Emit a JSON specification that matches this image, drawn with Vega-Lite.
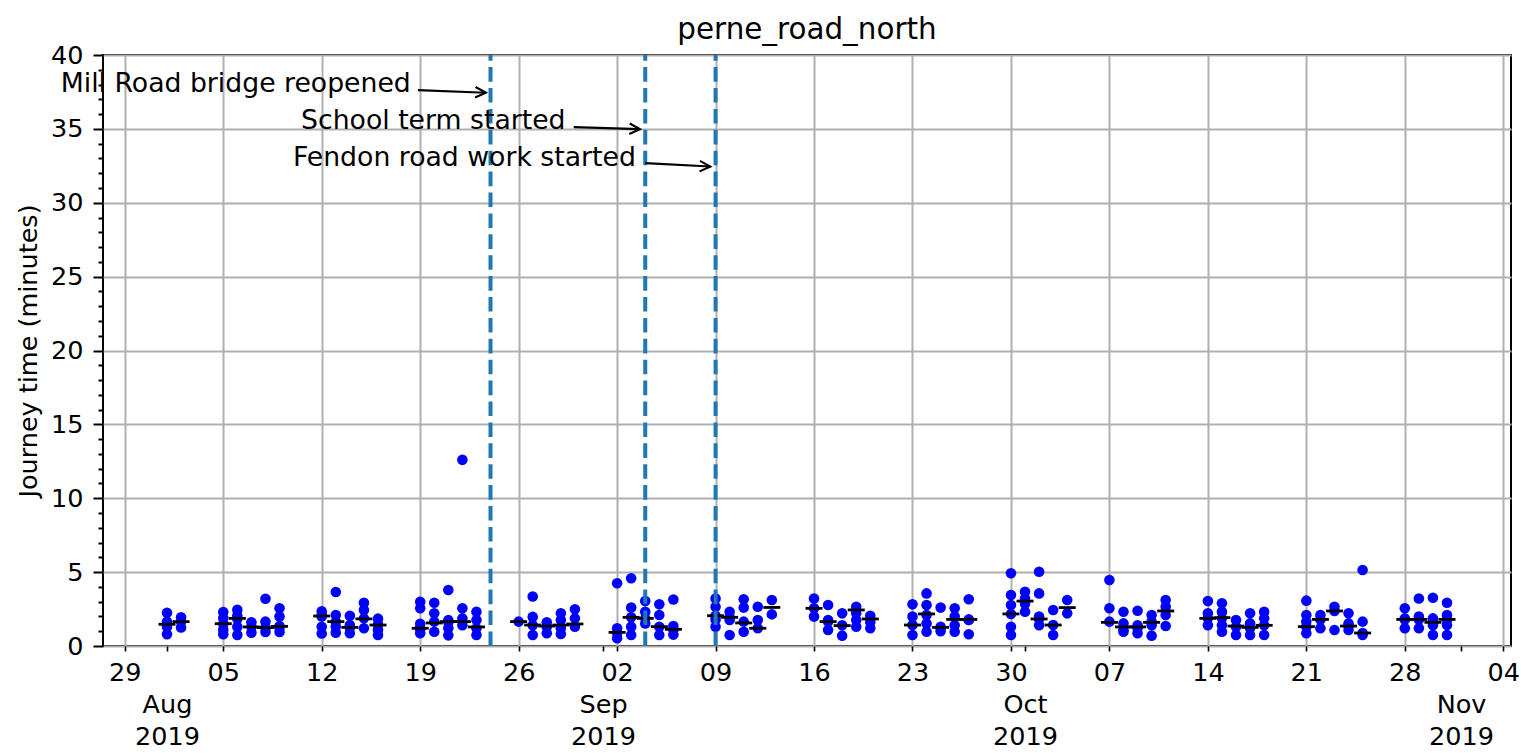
{
  "$schema": "https://vega.github.io/schema/vega-lite/v6.json",
  "width": 1408,
  "height": 591,
  "autosize": {"type": "none"},
  "padding": {"left": 103, "top": 55, "right": 10, "bottom": 107},
  "background": "white",
  "title": {"text": "perne_road_north", "fontSize": 29.4, "font": "DejaVu Sans", "fontWeight": "normal", "color": "black", "anchor": "middle", "frame": "group", "baseline": "alphabetic", "offset": -25},
  "config": {
    "font": "DejaVu Sans",
    "view": {"stroke": "black", "strokeWidth": 2}
  },
  "datasets": {
    "journeys": [
      {"date":"2019-08-01","minutes":2.25},{"date":"2019-08-01","minutes":1.65},{"date":"2019-08-01","minutes":1.3},{"date":"2019-08-01","minutes":0.8},
      {"date":"2019-08-02","minutes":1.95},{"date":"2019-08-02","minutes":1.65},{"date":"2019-08-02","minutes":1.25},
      {"date":"2019-08-05","minutes":2.3},{"date":"2019-08-05","minutes":1.9},{"date":"2019-08-05","minutes":1.5},{"date":"2019-08-05","minutes":1.1},{"date":"2019-08-05","minutes":0.8},
      {"date":"2019-08-06","minutes":2.45},{"date":"2019-08-06","minutes":2.05},{"date":"2019-08-06","minutes":1.85},{"date":"2019-08-06","minutes":1.3},{"date":"2019-08-06","minutes":0.75},
      {"date":"2019-08-07","minutes":1.6},{"date":"2019-08-07","minutes":1.3},{"date":"2019-08-07","minutes":0.9},
      {"date":"2019-08-08","minutes":3.2},{"date":"2019-08-08","minutes":1.65},{"date":"2019-08-08","minutes":1.25},{"date":"2019-08-08","minutes":0.95},
      {"date":"2019-08-09","minutes":2.55},{"date":"2019-08-09","minutes":2.0},{"date":"2019-08-09","minutes":1.35},{"date":"2019-08-09","minutes":1.25},{"date":"2019-08-09","minutes":0.95},
      {"date":"2019-08-12","minutes":2.35},{"date":"2019-08-12","minutes":2.1},{"date":"2019-08-12","minutes":2.0},{"date":"2019-08-12","minutes":1.3},{"date":"2019-08-12","minutes":0.85},
      {"date":"2019-08-13","minutes":3.65},{"date":"2019-08-13","minutes":2.1},{"date":"2019-08-13","minutes":1.65},{"date":"2019-08-13","minutes":1.3},{"date":"2019-08-13","minutes":0.9},
      {"date":"2019-08-14","minutes":2.05},{"date":"2019-08-14","minutes":1.42},{"date":"2019-08-14","minutes":1.25},{"date":"2019-08-14","minutes":0.86},
      {"date":"2019-08-15","minutes":2.93},{"date":"2019-08-15","minutes":2.43},{"date":"2019-08-15","minutes":1.87},{"date":"2019-08-15","minutes":1.2},
      {"date":"2019-08-16","minutes":1.85},{"date":"2019-08-16","minutes":1.45},{"date":"2019-08-16","minutes":1.1},{"date":"2019-08-16","minutes":0.75},
      {"date":"2019-08-19","minutes":3.0},{"date":"2019-08-19","minutes":2.55},{"date":"2019-08-19","minutes":1.5},{"date":"2019-08-19","minutes":1.2},{"date":"2019-08-19","minutes":1.15},{"date":"2019-08-19","minutes":0.86},
      {"date":"2019-08-20","minutes":2.93},{"date":"2019-08-20","minutes":2.21},{"date":"2019-08-20","minutes":1.65},{"date":"2019-08-20","minutes":0.97},
      {"date":"2019-08-21","minutes":3.79},{"date":"2019-08-21","minutes":1.75},{"date":"2019-08-21","minutes":1.6},{"date":"2019-08-21","minutes":1.2},{"date":"2019-08-21","minutes":0.72},
      {"date":"2019-08-22","minutes":12.6},{"date":"2019-08-22","minutes":2.55},{"date":"2019-08-22","minutes":1.87},{"date":"2019-08-22","minutes":1.4},
      {"date":"2019-08-23","minutes":2.32},{"date":"2019-08-23","minutes":1.76},{"date":"2019-08-23","minutes":1.2},{"date":"2019-08-23","minutes":0.74},
      {"date":"2019-08-26","minutes":1.65},
      {"date":"2019-08-27","minutes":3.35},{"date":"2019-08-27","minutes":1.97},{"date":"2019-08-27","minutes":1.4},{"date":"2019-08-27","minutes":0.74},
      {"date":"2019-08-28","minutes":1.6},{"date":"2019-08-28","minutes":1.3},{"date":"2019-08-28","minutes":0.86},
      {"date":"2019-08-29","minutes":2.21},{"date":"2019-08-29","minutes":1.76},{"date":"2019-08-29","minutes":1.2},{"date":"2019-08-29","minutes":0.81},
      {"date":"2019-08-30","minutes":2.48},{"date":"2019-08-30","minutes":1.87},{"date":"2019-08-30","minutes":1.31},
      {"date":"2019-09-02","minutes":4.25},{"date":"2019-09-02","minutes":1.2},{"date":"2019-09-02","minutes":0.9},{"date":"2019-09-02","minutes":0.52},
      {"date":"2019-09-03","minutes":4.58},{"date":"2019-09-03","minutes":2.6},{"date":"2019-09-03","minutes":1.94},{"date":"2019-09-03","minutes":1.31},{"date":"2019-09-03","minutes":0.74},
      {"date":"2019-09-04","minutes":3.04},{"date":"2019-09-04","minutes":2.32},{"date":"2019-09-04","minutes":1.87},{"date":"2019-09-04","minutes":1.53},
      {"date":"2019-09-05","minutes":2.82},{"date":"2019-09-05","minutes":2.1},{"date":"2019-09-05","minutes":1.3},{"date":"2019-09-05","minutes":0.74},
      {"date":"2019-09-06","minutes":3.15},{"date":"2019-09-06","minutes":1.35},{"date":"2019-09-06","minutes":1.1},{"date":"2019-09-06","minutes":0.77},
      {"date":"2019-09-09","minutes":3.22},{"date":"2019-09-09","minutes":2.66},{"date":"2019-09-09","minutes":2.05},{"date":"2019-09-09","minutes":1.8},{"date":"2019-09-09","minutes":1.31},
      {"date":"2019-09-10","minutes":2.32},{"date":"2019-09-10","minutes":1.94},{"date":"2019-09-10","minutes":1.76},{"date":"2019-09-10","minutes":0.74},
      {"date":"2019-09-11","minutes":3.16},{"date":"2019-09-11","minutes":2.6},{"date":"2019-09-11","minutes":1.65},{"date":"2019-09-11","minutes":0.97},
      {"date":"2019-09-12","minutes":2.66},{"date":"2019-09-12","minutes":1.76},{"date":"2019-09-12","minutes":1.2},
      {"date":"2019-09-13","minutes":3.11},{"date":"2019-09-13","minutes":2.14},
      {"date":"2019-09-16","minutes":3.22},{"date":"2019-09-16","minutes":2.55},{"date":"2019-09-16","minutes":1.99},
      {"date":"2019-09-17","minutes":2.77},{"date":"2019-09-17","minutes":1.76},{"date":"2019-09-17","minutes":1.65},{"date":"2019-09-17","minutes":1.08},
      {"date":"2019-09-18","minutes":2.21},{"date":"2019-09-18","minutes":1.4},{"date":"2019-09-18","minutes":0.7},
      {"date":"2019-09-19","minutes":2.66},{"date":"2019-09-19","minutes":2.21},{"date":"2019-09-19","minutes":1.76},{"date":"2019-09-19","minutes":1.31},
      {"date":"2019-09-20","minutes":2.05},{"date":"2019-09-20","minutes":1.6},{"date":"2019-09-20","minutes":1.2},
      {"date":"2019-09-23","minutes":2.82},{"date":"2019-09-23","minutes":1.99},{"date":"2019-09-23","minutes":1.42},{"date":"2019-09-23","minutes":0.74},
      {"date":"2019-09-24","minutes":3.56},{"date":"2019-09-24","minutes":2.77},{"date":"2019-09-24","minutes":2.1},{"date":"2019-09-24","minutes":1.53},{"date":"2019-09-24","minutes":0.97},
      {"date":"2019-09-25","minutes":2.6},{"date":"2019-09-25","minutes":1.3},{"date":"2019-09-25","minutes":1.2},{"date":"2019-09-25","minutes":1.0},
      {"date":"2019-09-26","minutes":2.55},{"date":"2019-09-26","minutes":2.0},{"date":"2019-09-26","minutes":1.4},{"date":"2019-09-26","minutes":0.97},
      {"date":"2019-09-27","minutes":3.16},{"date":"2019-09-27","minutes":1.8},{"date":"2019-09-27","minutes":1.76},{"date":"2019-09-27","minutes":0.79},
      {"date":"2019-09-30","minutes":4.92},{"date":"2019-09-30","minutes":3.45},{"date":"2019-09-30","minutes":2.77},{"date":"2019-09-30","minutes":2.17},{"date":"2019-09-30","minutes":1.3},{"date":"2019-09-30","minutes":0.74},
      {"date":"2019-10-01","minutes":3.67},{"date":"2019-10-01","minutes":3.22},{"date":"2019-10-01","minutes":2.86},{"date":"2019-10-01","minutes":2.32},
      {"date":"2019-10-02","minutes":5.03},{"date":"2019-10-02","minutes":3.56},{"date":"2019-10-02","minutes":2.0},{"date":"2019-10-02","minutes":1.83},{"date":"2019-10-02","minutes":1.4},
      {"date":"2019-10-03","minutes":2.44},{"date":"2019-10-03","minutes":1.42},{"date":"2019-10-03","minutes":0.74},
      {"date":"2019-10-04","minutes":3.11},{"date":"2019-10-04","minutes":2.21},
      {"date":"2019-10-07","minutes":4.47},{"date":"2019-10-07","minutes":2.55},{"date":"2019-10-07","minutes":1.65},
      {"date":"2019-10-08","minutes":2.32},{"date":"2019-10-08","minutes":1.53},{"date":"2019-10-08","minutes":1.1},{"date":"2019-10-08","minutes":0.97},
      {"date":"2019-10-09","minutes":2.39},{"date":"2019-10-09","minutes":1.4},{"date":"2019-10-09","minutes":1.2},{"date":"2019-10-09","minutes":0.86},
      {"date":"2019-10-10","minutes":2.1},{"date":"2019-10-10","minutes":1.65},{"date":"2019-10-10","minutes":1.4},{"date":"2019-10-10","minutes":0.7},
      {"date":"2019-10-11","minutes":3.11},{"date":"2019-10-11","minutes":2.66},{"date":"2019-10-11","minutes":2.1},{"date":"2019-10-11","minutes":1.35},
      {"date":"2019-10-14","minutes":3.04},{"date":"2019-10-14","minutes":2.21},{"date":"2019-10-14","minutes":1.87},{"date":"2019-10-14","minutes":1.4},
      {"date":"2019-10-15","minutes":2.89},{"date":"2019-10-15","minutes":2.32},{"date":"2019-10-15","minutes":1.87},{"date":"2019-10-15","minutes":1.4},{"date":"2019-10-15","minutes":0.97},
      {"date":"2019-10-16","minutes":1.76},{"date":"2019-10-16","minutes":1.3},{"date":"2019-10-16","minutes":0.74},
      {"date":"2019-10-17","minutes":2.21},{"date":"2019-10-17","minutes":1.53},{"date":"2019-10-17","minutes":1.2},{"date":"2019-10-17","minutes":0.74},
      {"date":"2019-10-18","minutes":2.32},{"date":"2019-10-18","minutes":1.87},{"date":"2019-10-18","minutes":1.4},{"date":"2019-10-18","minutes":0.74},
      {"date":"2019-10-21","minutes":3.07},{"date":"2019-10-21","minutes":2.1},{"date":"2019-10-21","minutes":1.65},{"date":"2019-10-21","minutes":1.3},{"date":"2019-10-21","minutes":0.86},
      {"date":"2019-10-22","minutes":2.1},{"date":"2019-10-22","minutes":1.8},{"date":"2019-10-22","minutes":1.2},
      {"date":"2019-10-23","minutes":2.66},{"date":"2019-10-23","minutes":2.37},{"date":"2019-10-23","minutes":1.08},
      {"date":"2019-10-24","minutes":2.21},{"date":"2019-10-24","minutes":1.53},{"date":"2019-10-24","minutes":1.35},{"date":"2019-10-24","minutes":1.08},
      {"date":"2019-10-25","minutes":5.14},{"date":"2019-10-25","minutes":1.65},{"date":"2019-10-25","minutes":0.88},{"date":"2019-10-25","minutes":0.74},
      {"date":"2019-10-28","minutes":2.55},{"date":"2019-10-28","minutes":1.87},{"date":"2019-10-28","minutes":1.8},{"date":"2019-10-28","minutes":1.2},
      {"date":"2019-10-29","minutes":3.22},{"date":"2019-10-29","minutes":1.99},{"date":"2019-10-29","minutes":1.8},{"date":"2019-10-29","minutes":1.2},
      {"date":"2019-10-30","minutes":3.27},{"date":"2019-10-30","minutes":1.87},{"date":"2019-10-30","minutes":1.6},{"date":"2019-10-30","minutes":1.4},{"date":"2019-10-30","minutes":0.74},
      {"date":"2019-10-31","minutes":2.93},{"date":"2019-10-31","minutes":2.1},{"date":"2019-10-31","minutes":1.8},{"date":"2019-10-31","minutes":1.42},{"date":"2019-10-31","minutes":0.74}
    ],
    "medians": [
      {"date":"2019-08-01","median":1.47},{"date":"2019-08-02","median":1.65},
      {"date":"2019-08-05","median":1.51},{"date":"2019-08-06","median":1.87},{"date":"2019-08-07","median":1.29},{"date":"2019-08-08","median":1.24},{"date":"2019-08-09","median":1.33},
      {"date":"2019-08-12","median":2.03},{"date":"2019-08-13","median":1.65},{"date":"2019-08-14","median":1.26},{"date":"2019-08-15","median":1.83},{"date":"2019-08-16","median":1.42},
      {"date":"2019-08-19","median":1.2},{"date":"2019-08-20","median":1.56},{"date":"2019-08-21","median":1.65},{"date":"2019-08-22","median":1.65},{"date":"2019-08-23","median":1.29},
      {"date":"2019-08-26","median":1.65},{"date":"2019-08-27","median":1.42},{"date":"2019-08-28","median":1.35},{"date":"2019-08-29","median":1.42},{"date":"2019-08-30","median":1.49},
      {"date":"2019-09-02","median":0.92},{"date":"2019-09-03","median":1.94},{"date":"2019-09-04","median":1.87},{"date":"2019-09-05","median":1.31},{"date":"2019-09-06","median":1.13},
      {"date":"2019-09-09","median":2.05},{"date":"2019-09-10","median":1.94},{"date":"2019-09-11","median":1.56},{"date":"2019-09-12","median":1.2},{"date":"2019-09-13","median":2.61},
      {"date":"2019-09-16","median":2.55},{"date":"2019-09-17","median":1.65},{"date":"2019-09-18","median":1.38},{"date":"2019-09-19","median":2.44},{"date":"2019-09-20","median":1.83},
      {"date":"2019-09-23","median":1.42},{"date":"2019-09-24","median":2.17},{"date":"2019-09-25","median":1.26},{"date":"2019-09-26","median":1.8},{"date":"2019-09-27","median":1.8},
      {"date":"2019-09-30","median":2.17},{"date":"2019-10-01","median":3.04},{"date":"2019-10-02","median":1.83},{"date":"2019-10-03","median":1.42},{"date":"2019-10-04","median":2.6},
      {"date":"2019-10-07","median":1.6},{"date":"2019-10-08","median":1.29},{"date":"2019-10-09","median":1.29},{"date":"2019-10-10","median":1.6},{"date":"2019-10-11","median":2.37},
      {"date":"2019-10-14","median":1.87},{"date":"2019-10-15","median":1.92},{"date":"2019-10-16","median":1.35},{"date":"2019-10-17","median":1.26},{"date":"2019-10-18","median":1.4},
      {"date":"2019-10-21","median":1.31},{"date":"2019-10-22","median":1.8},{"date":"2019-10-23","median":2.37},{"date":"2019-10-24","median":1.35},{"date":"2019-10-25","median":0.88},
      {"date":"2019-10-28","median":1.8},{"date":"2019-10-29","median":1.8},{"date":"2019-10-30","median":1.6},{"date":"2019-10-31","median":1.8}
    ],
    "events": [
      {"date":"2019-08-24"},{"date":"2019-09-04"},{"date":"2019-09-09"}
    ],
    "notes": [
      {"label":"Mill Road bridge reopened","tx":"2019-08-18T08:00:00Z","ty":37.5,"ax":"2019-08-18T20:00:00Z","ay":37.62,"hx":"2019-08-23T16:00:00Z","hy":37.45},
      {"label":"School term started","tx":"2019-08-29T08:00:00Z","ty":35.0,"ax":"2019-08-29T22:00:00Z","ay":35.12,"hx":"2019-09-03T15:00:00Z","hy":34.98},
      {"label":"Fendon road work started","tx":"2019-09-03T08:00:00Z","ty":32.5,"ax":"2019-09-04T00:00:00Z","ay":32.68,"hx":"2019-09-08T15:00:00Z","hy":32.45}
    ]
  },
  "layer": [
    {
      "data": {"name": "journeys"},
      "mark": {"type": "circle", "color": "#0000ff", "opacity": 1, "size": 112},
      "encoding": {
        "x": {
          "field": "date", "type": "temporal",
          "scale": {"type": "utc", "domain": [{"year":2019,"month":7,"date":27,"hours":10,"minutes":48,"utc":true},{"year":2019,"month":11,"date":4,"hours":13,"minutes":12,"utc":true}]},
          "axis": {
            "title": null,
            "tickCount": 200,
            "values": [
              {"year":2019,"month":7,"date":29,"utc":true},{"year":2019,"month":8,"date":1,"utc":true},{"year":2019,"month":8,"date":5,"utc":true},
              {"year":2019,"month":8,"date":12,"utc":true},{"year":2019,"month":8,"date":19,"utc":true},{"year":2019,"month":8,"date":26,"utc":true},
              {"year":2019,"month":9,"date":1,"utc":true},{"year":2019,"month":9,"date":2,"utc":true},{"year":2019,"month":9,"date":9,"utc":true},
              {"year":2019,"month":9,"date":16,"utc":true},{"year":2019,"month":9,"date":23,"utc":true},{"year":2019,"month":9,"date":30,"utc":true},
              {"year":2019,"month":10,"date":1,"utc":true},{"year":2019,"month":10,"date":7,"utc":true},{"year":2019,"month":10,"date":14,"utc":true},
              {"year":2019,"month":10,"date":21,"utc":true},{"year":2019,"month":10,"date":28,"utc":true},{"year":2019,"month":11,"date":1,"utc":true},
              {"year":2019,"month":11,"date":4,"utc":true}
            ],
            "labelExpr": "utcFormat(datum.value, '%d') == '01' ? ['', utcFormat(datum.value, '%b'), utcFormat(datum.value, '%Y')] : utcFormat(datum.value, '%d')",
            "labelFontSize": 25.5, "labelColor": "black", "labelPadding": 9, "labelLineHeight": 32,
            "labelFlush": false, "labelOverlap": false, "labelBound": false,
            "tickSize": 5, "tickColor": "black", "tickWidth": 1.6,
            "domain": false,
            "grid": true, "gridColor": "#b0b0b0", "gridWidth": 2,
            "gridOpacity": {"condition": {"test": "utcFormat(datum.value, '%d') == '01'", "value": 0}, "value": 1}
          }
        },
        "y": {
          "field": "minutes", "type": "quantitative",
          "scale": {"domain": [0, 40], "nice": false, "zero": false},
          "axis": {
            "title": "Journey time (minutes)", "titleFontSize": 25.5, "titleFontWeight": "normal", "titleColor": "black", "titlePadding": 9, "titleFont": "DejaVu Sans",
            "tickCount": 200,
            "values": [0,1,2,3,4,5,6,7,8,9,10,11,12,13,14,15,16,17,18,19,20,21,22,23,24,25,26,27,28,29,30,31,32,33,34,35,36,37,38,39,40],
            "labelExpr": "datum.value % 5 == 0 ? '' + datum.value : ''",
            "labelFontSize": 25.5, "labelColor": "black", "labelPadding": 10, "labelOverlap": false, "labelBound": false, "labelFlush": false,
            "tickSize": {"condition": {"test": "datum.value % 5 == 0", "value": 10}, "value": 5},
            "tickColor": "black", "tickWidth": 2,
            "domain": false,
            "grid": true, "gridColor": "#b0b0b0", "gridWidth": 2,
            "gridOpacity": {"condition": {"test": "datum.value % 5 == 0", "value": 1}, "value": 0}
          }
        }
      }
    },
    {
      "data": {"name": "medians"},
      "mark": {"type": "tick", "orient": "horizontal", "color": "black", "opacity": 1, "size": 17, "thickness": 2.8},
      "encoding": {
        "x": {"field": "date", "type": "temporal"},
        "y": {"field": "median", "type": "quantitative"}
      }
    },
    {
      "data": {"name": "events"},
      "mark": {"type": "rule", "color": "#1f77b4", "strokeWidth": 4, "strokeDash": [14.6, 6.3], "strokeDashOffset": 8.8},
      "encoding": {
        "x": {"field": "date", "type": "temporal"}
      }
    },
    {
      "data": {"name": "notes"},
      "mark": {"type": "text", "align": "right", "baseline": "alphabetic", "fontSize": 26.7, "color": "black", "font": "DejaVu Sans"},
      "encoding": {
        "x": {"field": "tx", "type": "temporal"},
        "y": {"field": "ty", "type": "quantitative"},
        "text": {"field": "label"}
      }
    },
    {
      "data": {"name": "notes"},
      "mark": {"type": "rule", "color": "black", "strokeWidth": 2.1},
      "encoding": {
        "x": {"field": "ax", "type": "temporal"},
        "y": {"field": "ay", "type": "quantitative"},
        "x2": {"field": "hx"},
        "y2": {"field": "hy"}
      }
    },
    {
      "data": {"name": "notes"},
      "mark": {"type": "point", "shape": "M -1 -0.5 L 0 0 L -1 0.5", "filled": false, "stroke": "black", "strokeWidth": 2.1, "size": 441, "angle": 2.5, "opacity": 1},
      "encoding": {
        "x": {"field": "hx", "type": "temporal"},
        "y": {"field": "hy", "type": "quantitative"}
      }
    }
  ]
}
